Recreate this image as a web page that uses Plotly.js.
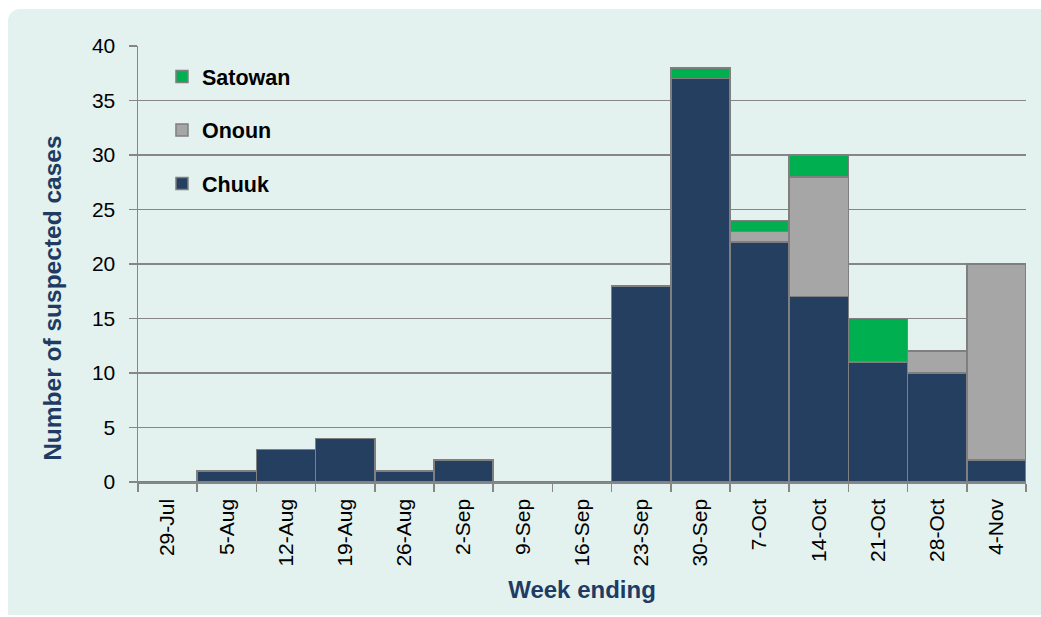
<!DOCTYPE html>
<html>
<head>
<meta charset="utf-8">
<script src="https://cdn.plot.ly/plotly-3.0.1.min.js"></script>
<style>
  html, body { margin: 0; padding: 0; background: #ffffff; }
  #card { position: absolute; left: 8px; top: 9px; width: 1040px; height: 606px;
          background: #e3f2ef; border-radius: 12px 0 0 0; }
  #chart { position: absolute; left: 0; top: 0; width: 1041px; height: 617px; }
</style>
</head>
<body>
<div id="card"></div>
<div id="chart"></div>
<script>
const weeks = ["29-Jul","5-Aug","12-Aug","19-Aug","26-Aug","2-Sep","9-Sep","16-Sep","23-Sep","30-Sep","7-Oct","14-Oct","21-Oct","28-Oct","4-Nov"];
const chuuk   = [0,1,3,4,1,2,0,0,18,37,22,17,11,10,2];
const onoun   = [0,0,0,0,0,0,0,0,0,0,1,11,0,2,18];
const satowan = [0,0,0,0,0,0,0,0,0,1,1,2,4,0,0];
const yTitle = "Number of suspected cases";
const xTitle = "Week ending";

const lineStyle = { color: "#7f7f7f", width: 1.5 };
function bar(name, y, color, group, rank) {
  return { type: "bar", name: name, x: weeks, y: y, legendgroup: group, legendrank: rank,
           marker: { color: color, line: lineStyle }, hoverinfo: "x+y+name" };
}
const data = [
  bar("Chuuk", chuuk, "#243f60", "c", 3),
  bar("Onoun", onoun, "#a6a6a6", "o", 2),
  bar("Satowan", satowan, "#00b050", "s", 1)
];

const titleColor = "#1f3b64";
const layout = {
  width: 1041, height: 617,
  margin: { l: 138, r: 15, t: 46, b: 135 },
  paper_bgcolor: "rgba(0,0,0,0)",
  plot_bgcolor: "rgba(0,0,0,0)",
  barmode: "stack",
  bargap: 0,
  font: { family: "Liberation Sans, Arial, sans-serif", color: "#000000", size: 21 },
  showlegend: true,
  legend: {
    x: 0.027, y: 0.977, xanchor: "left", yanchor: "top",
    traceorder: "grouped", tracegroupgap: 22.5,
    bgcolor: "rgba(0,0,0,0)",
    font: { family: "Liberation Sans, Arial, sans-serif", size: 21.5, color: "#000000", weight: "bold" }
  },
  xaxis: {
    type: "category",
    tickson: "boundaries",
    ticks: "outside", ticklen: 8, tickcolor: "#868686", tickwidth: 1.5,
    ticklabelstandoff: 7,
    tickangle: -90,
    showline: true, linecolor: "#868686", linewidth: 1.5,
    showgrid: false,
    tickfont: { size: 21, color: "#000000" },
    title: { text: xTitle, standoff: 15,
             font: { size: 24, color: titleColor, weight: "bold" } }
  },
  yaxis: {
    range: [0, 40], dtick: 5, tick0: 0,
    ticks: "outside", ticklen: 8, tickcolor: "#868686", tickwidth: 1.5,
    ticklabelstandoff: 9,
    showline: true, linecolor: "#868686", linewidth: 1.5,
    showgrid: true, gridcolor: "#868686", gridwidth: 1.5,
    zeroline: false,
    tickfont: { size: 21, color: "#000000" }
  },
  annotations: [{
    text: yTitle, textangle: -90, showarrow: false,
    xref: "paper", yref: "paper", x: -0.097, y: 0.422,
    xanchor: "center", yanchor: "middle",
    font: { size: 24.5, color: titleColor, weight: "bold" }
  }]
};

Plotly.newPlot("chart", data, layout, { displayModeBar: false, staticPlot: true });
</script>
</body>
</html>
